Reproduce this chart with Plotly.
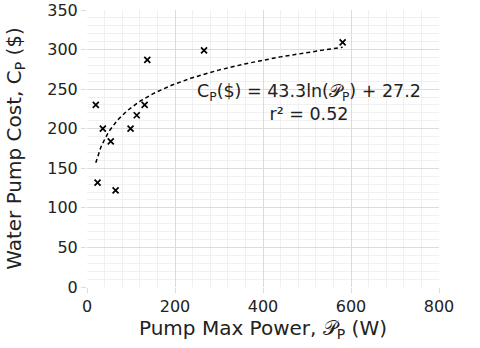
import numpy as np
import plotly.graph_objects as go

# Data
pump_power_w = [20, 24, 36, 54, 65, 99, 113, 131, 137, 266, 581]
pump_cost_usd = [230, 132, 200, 184, 122, 200, 217, 230, 287, 299, 309]

# Logarithmic fit shown on the chart: C = a*ln(P) + b
fit_a = 43.3
fit_b = 27.2
fit_r2 = 0.52

font_family = "DejaVu Sans, Verdana, sans-serif"

fit_x = np.linspace(min(pump_power_w), max(pump_power_w), 200)
fit_y = fit_a * np.log(fit_x) + fit_b

fig = go.Figure()

fig.add_trace(go.Scatter(
    x=fit_x, y=fit_y,
    mode='lines',
    line=dict(color='black', width=1.5, dash='4px,3px'),
    hoverinfo='skip',
    showlegend=False,
))

fig.add_trace(go.Scatter(
    x=pump_power_w, y=pump_cost_usd,
    mode='markers',
    marker=dict(symbol='x-thin-open', size=6, color='black',
                line=dict(color='black', width=1.7)),
    showlegend=False,
))

fig.add_annotation(
    x=505, y=233, xref='x', yref='y',
    text=f"C<sub>P</sub>($) = {fit_a}ln(\U0001D4AB<sub>P</sub>) + {fit_b}<br>r² = {fit_r2}",
    showarrow=False, align='center',
    font=dict(family=font_family, size=17.5, color='#222222'),
)

axis_common = dict(
    showgrid=True, gridcolor='#dcdcdc', gridwidth=1,
    zeroline=False, showline=False, automargin=False,
    ticks='outside', ticklen=5, tickcolor='#dcdcdc',
    tickfont=dict(family=font_family, size=16, color='#222222'),
)

fig.update_layout(
    width=480, height=348,
    margin=dict(l=87, r=41, t=10, b=61),
    plot_bgcolor='white', paper_bgcolor='white',
    font=dict(family=font_family, color='#222222'),
    xaxis=dict(
        range=[0, 800], dtick=200,
        minor=dict(dtick=40, showgrid=True, gridcolor='#f0f0f0', gridwidth=1),
        title=dict(text="Pump Max Power, \U0001D4AB<sub>P</sub> (W)",
                   font=dict(family=font_family, size=20), standoff=0),
        **axis_common,
    ),
    yaxis=dict(
        range=[0, 350], dtick=50,
        minor=dict(dtick=10, showgrid=True, gridcolor='#f0f0f0', gridwidth=1),
        title=dict(text="Water Pump Cost, C<sub>P</sub> ($)",
                   font=dict(family=font_family, size=20), standoff=20),
        **axis_common,
    ),
)

# drop the default page margin so the figure sits at the window's corner
fig.write_html("out.html", config={'displayModeBar': False},
               post_script="document.body.style.margin='0';")
